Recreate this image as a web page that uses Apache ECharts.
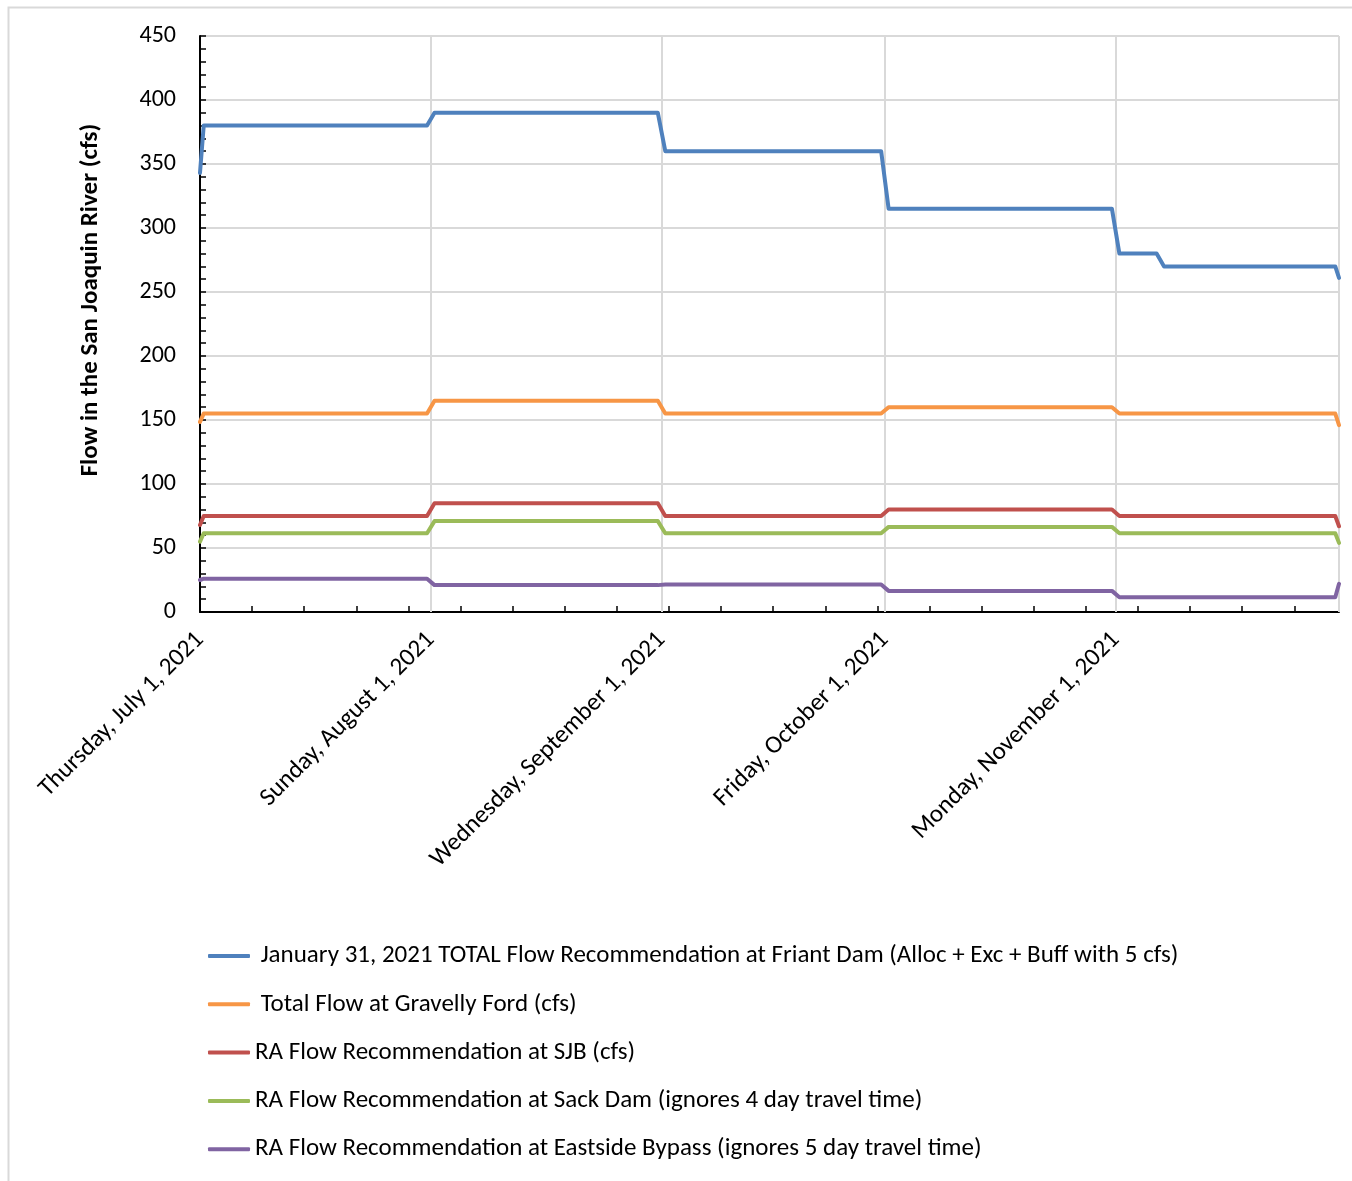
<!DOCTYPE html>
<html>
<head>
<meta charset="utf-8">
<script src="https://cdn.jsdelivr.net/npm/echarts@6/dist/echarts.min.js"></script>
<style>
  html, body { margin: 0; padding: 0; background: #ffffff; }
  #chart { width: 1352px; height: 1181px; }
</style>
</head>
<body>
<div id="chart"></div>
<script>
// Daily flow recommendations along the San Joaquin River, July - November 2021.
// Vertices of each step line (day boundaries fall at noon of each daily value).
const vertexTimes = [
  '2021-07-01T00:00', '2021-07-01T12:00', '2021-07-31T12:00', '2021-08-01T12:00',
  '2021-08-31T12:00', '2021-09-01T12:00', '2021-09-30T12:00', '2021-10-01T12:00',
  '2021-10-31T12:00', '2021-11-01T12:00', '2021-11-06T12:00', '2021-11-07T12:00',
  '2021-11-30T12:00', '2021-12-01T00:00'
];

const seriesNames = [
  ' January 31, 2021 TOTAL Flow Recommendation at Friant Dam (Alloc + Exc + Buff with 5 cfs)',
  ' Total Flow at Gravelly Ford (cfs)',
  'RA Flow Recommendation at SJB (cfs)',
  'RA Flow Recommendation at Sack Dam (ignores 4 day travel time)',
  'RA Flow Recommendation at Eastside Bypass (ignores 5 day travel time)'
];

const friantTotal   = [343, 380, 380, 390, 390, 360, 360, 315, 315, 280, 280, 270, 270, 261];
const gravellyFord  = [148.5, 155, 155, 165, 165, 155, 155, 160, 160, 155, 155, 155, 155, 146];
const sjbFlow       = [68, 75, 75, 85, 85, 75, 75, 80, 80, 75, 75, 75, 75, 67];
const sackDamFlow   = [55, 61.5, 61.5, 71, 71, 61.5, 61.5, 66.5, 66.5, 61.5, 61.5, 61.5, 61.5, 54];
const eastsideFlow  = [25, 26, 26, 21, 21, 21.5, 21.5, 16.5, 16.5, 11.5, 11.5, 11.5, 11.5, 22];

const seriesValues = [friantTotal, gravellyFord, sjbFlow, sackDamFlow, eastsideFlow];
const seriesColors = ['#4f81bd', '#f79646', '#c0504d', '#9bbb59', '#8064a2'];

// Axis labels at month starts and the date range of the axis
const monthStarts = ['2021-07-01', '2021-08-01', '2021-09-01', '2021-10-01', '2021-11-01'];
const monthLabels = [
  'Thursday, July 1, 2021',
  'Sunday, August 1, 2021',
  'Wednesday, September 1, 2021',
  'Friday, October 1, 2021',
  'Monday, November 1, 2021'
];
const axisStart = '2021-07-01';
const axisEnd = '2021-12-01';

const yTicks = [0, 50, 100, 150, 200, 250, 300, 350, 400, 450];

// --- helpers: convert dates to day offsets from the axis start ---
const DAY = 86400000;
function toUTC(s) {
  const [d, t] = s.split('T');
  const [y, m, dd] = d.split('-').map(Number);
  let hh = 0, mm = 0;
  if (t) { [hh, mm] = t.split(':').map(Number); }
  return Date.UTC(y, m - 1, dd, hh, mm);
}
const t0 = toUTC(axisStart);
const dayOf = s => (toUTC(s) - t0) / DAY;
const xMax = dayOf(axisEnd);
const monthDays = monthStarts.map(dayOf);
const weekTicks = [];
for (let d = 0; d < xMax; d += 7) weekTicks.push(d);

const FONT = 'Carlito, Lato, "Open Sans", sans-serif';

const chart = echarts.init(document.getElementById('chart'), null, { renderer: 'canvas' });

const series = seriesNames.map((name, i) => ({
  name: name,
  type: 'line',
  data: vertexTimes.map((t, k) => [dayOf(t), seriesValues[i][k]]),
  showSymbol: false,
  symbol: 'none',
  color: seriesColors[i],
  lineStyle: { width: 4, color: seriesColors[i], cap: 'round', join: 'round' },
  z: 10 - i,
  animation: false
}));

// Vertical month gridlines and the right plot border
series.push({
  name: 'month grid',
  type: 'line',
  data: [],
  silent: true,
  markLine: {
    silent: true,
    symbol: ['none', 'none'],
    label: { show: false },
    lineStyle: { color: '#d9d9d9', width: 2, type: 'solid' },
    data: monthDays.slice(1).concat([xMax]).map(d => ({ xAxis: d }))
  },
  z: 1,
  animation: false
});

chart.setOption({
  animation: false,
  backgroundColor: '#ffffff',
  textStyle: { fontFamily: FONT },
  grid: { left: 200, top: 36, right: 13, bottom: 569, containLabel: false },
  xAxis: {
    type: 'value',
    min: 0,
    max: xMax,
    axisLine: { show: true, onZero: false, lineStyle: { color: '#000000', width: 2 } },
    axisTick: { show: true, inside: true, length: 6, customValues: weekTicks, lineStyle: { color: '#000000', width: 1.5 } },
    axisLabel: {
      show: true,
      customValues: monthDays,
      rotate: 45,
      margin: 24,
      fontSize: 25,
      fontFamily: FONT,
      color: '#000000',
      formatter: v => monthLabels[monthDays.indexOf(v)] || ''
    },
    splitLine: { show: false }
  },
  yAxis: {
    type: 'value',
    min: 0,
    max: 450,
    interval: 50,
    axisLine: { show: true, lineStyle: { color: '#000000', width: 2 } },
    axisTick: { show: true, inside: true, length: 6, lineStyle: { color: '#000000', width: 1.5 } },
    minorTick: { show: true, splitNumber: 5, length: 6, lineStyle: { color: '#000000', width: 1.5 } },
    axisLabel: {
      margin: 24,
      fontSize: 24,
      fontFamily: FONT,
      color: '#000000',
      formatter: v => (yTicks.indexOf(v) >= 0 ? String(v) : '')
    },
    splitLine: { show: true, lineStyle: { color: '#d9d9d9', width: 2 } }
  },
  legend: {
    show: true,
    orient: 'vertical',
    left: 203,
    top: 937,
    icon: 'roundRect',
    itemWidth: 42,
    itemHeight: 4,
    itemGap: 20.3,
    data: seriesNames,
    textStyle: { fontSize: 25, lineHeight: 28, fontFamily: FONT, color: '#000000' }
  },
  graphic: [
    {
      type: 'rect',
      silent: true,
      shape: { x: 8.5, y: 7.5, width: 1400, height: 1300 },
      style: { fill: 'none', stroke: '#d9d9d9', lineWidth: 2 },
      z: -10
    },
    {
      type: 'text',
      silent: true,
      x: 91,
      y: 300,
      rotation: Math.PI / 2,
      style: {
        text: 'Flow in the San Joaquin River (cfs)',
        font: 'bold 25px ' + FONT,
        fill: '#000000',
        align: 'center',
        verticalAlign: 'middle'
      }
    }
  ],
  series: series
});
</script>
</body>
</html>
